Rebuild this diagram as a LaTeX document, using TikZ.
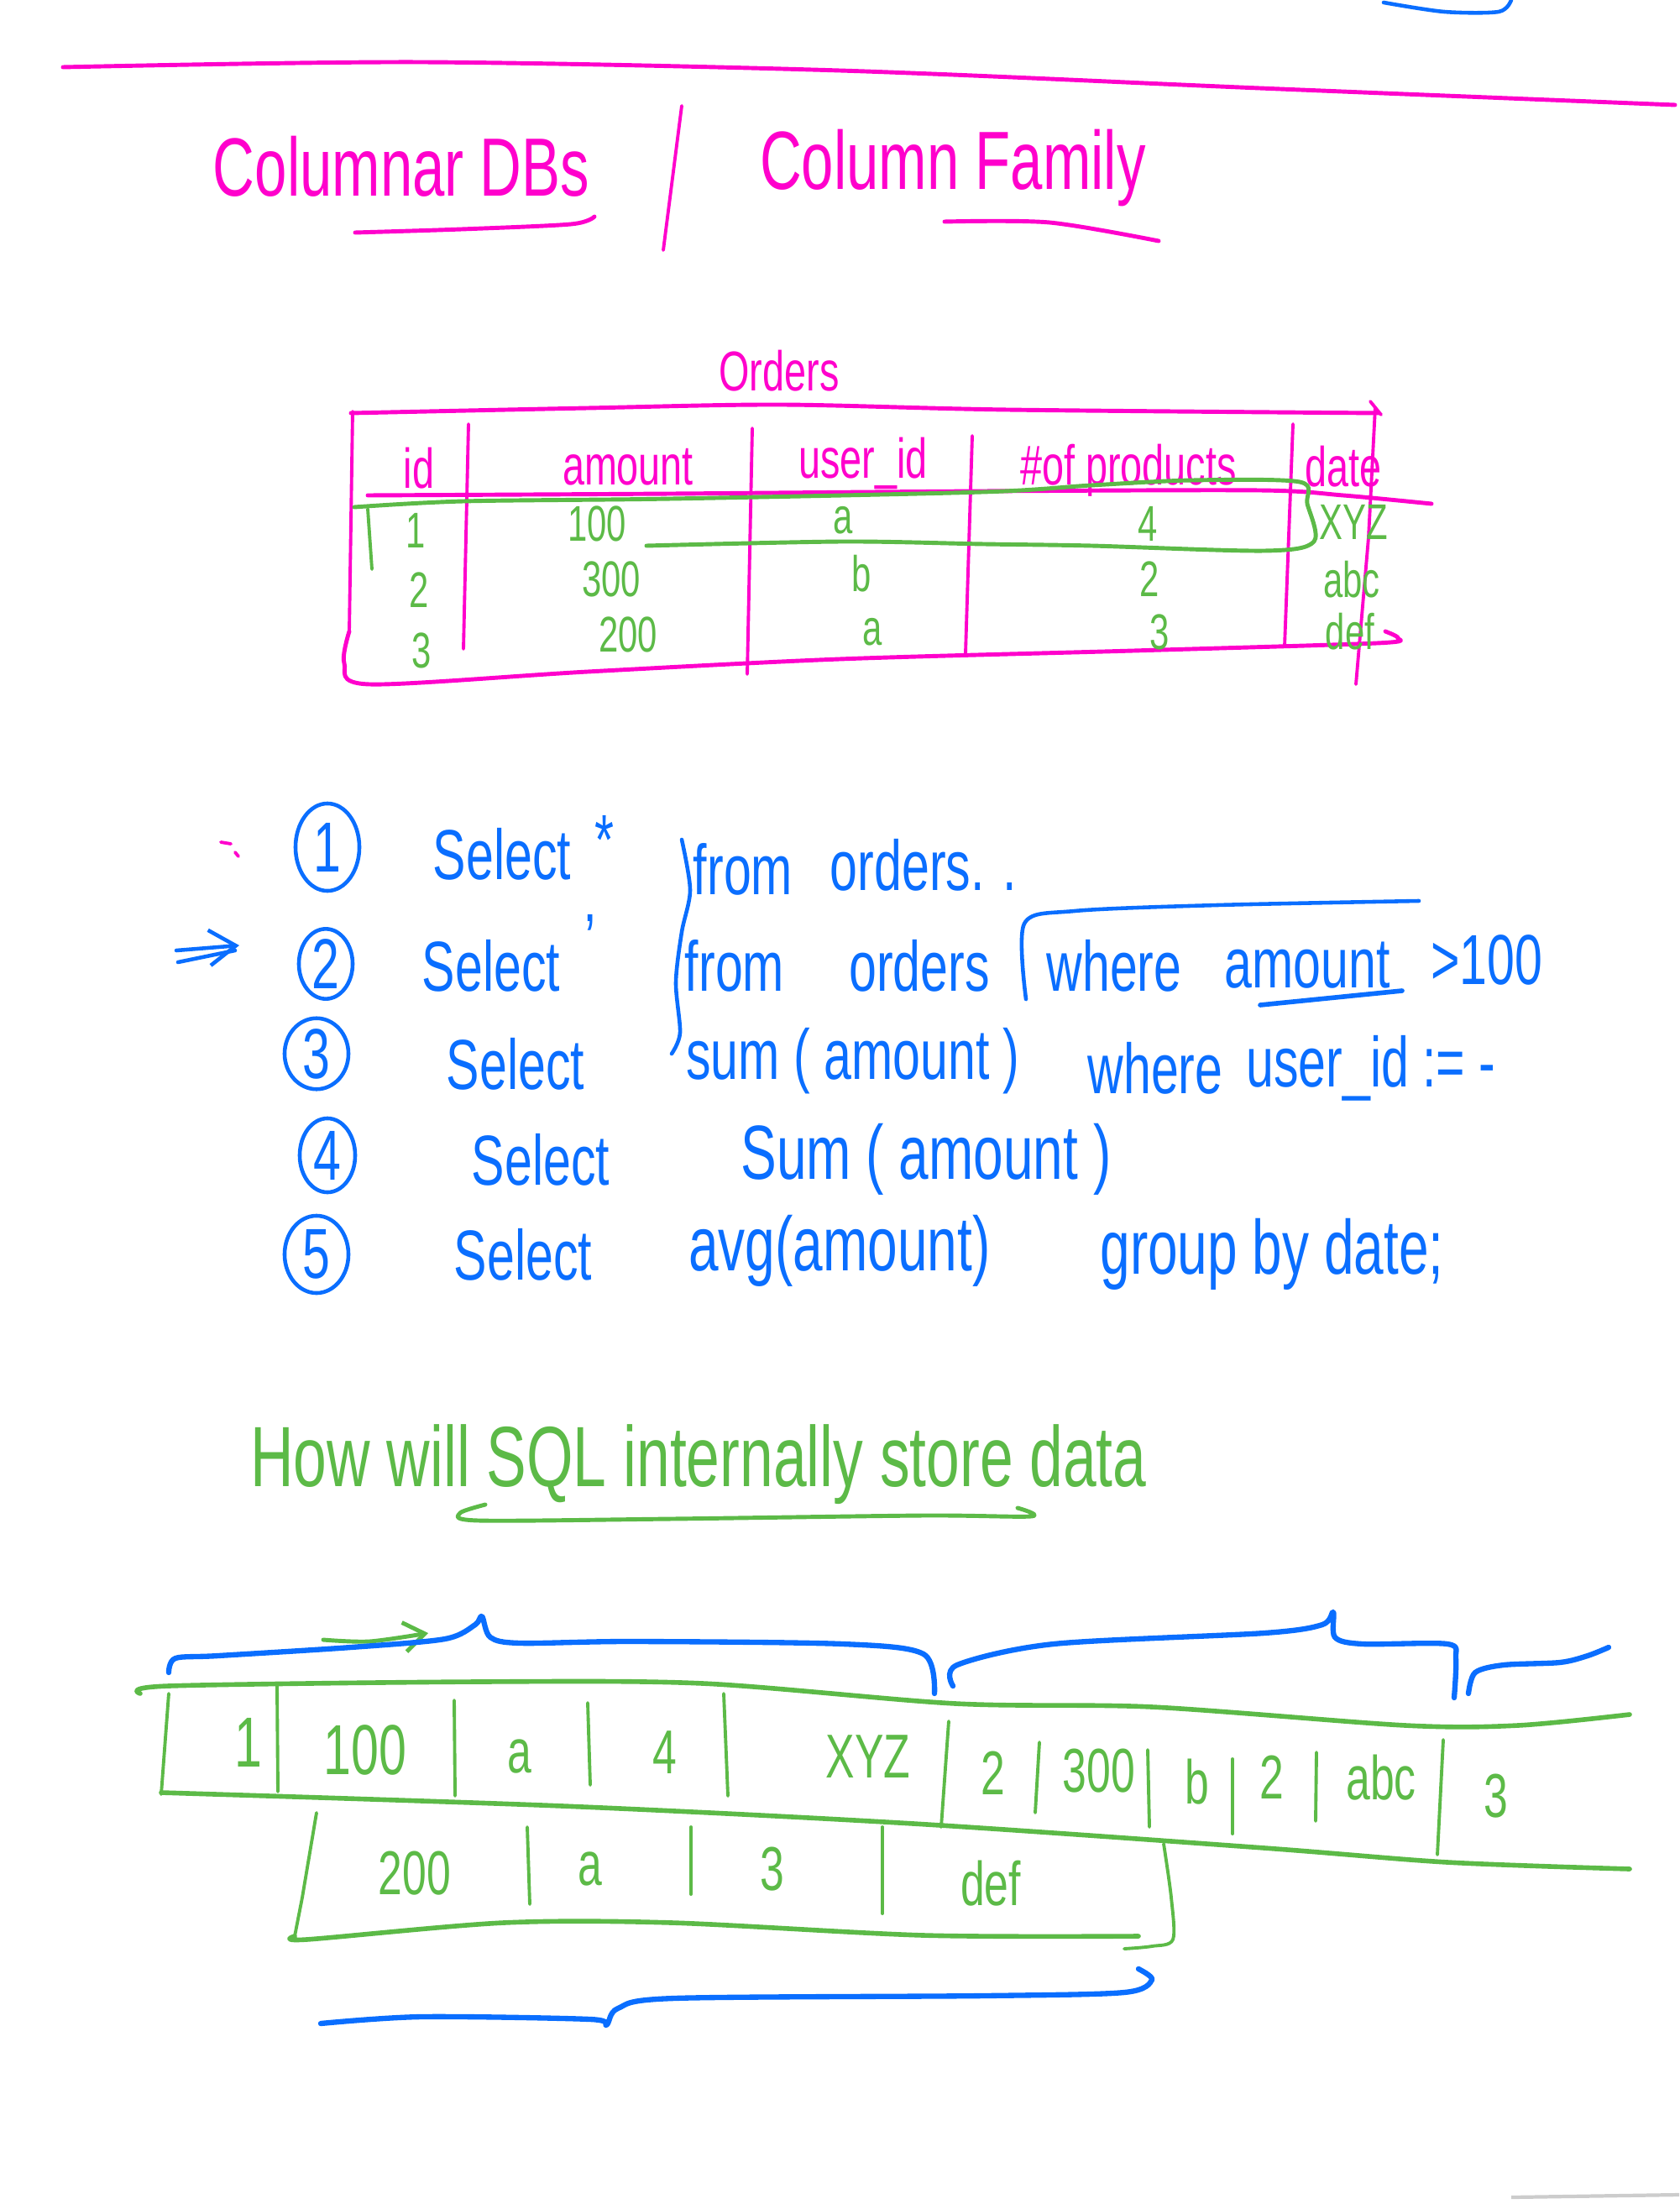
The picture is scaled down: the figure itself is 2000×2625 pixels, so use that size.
\documentclass[tikz,border=0pt]{standalone}
\usepackage{fontspec}
\setmainfont[FakeStretch=0.7]{Liberation Sans}
\usetikzlibrary{positioning,shapes.geometric,arrows.meta}

\definecolor{inkpink}{RGB}{255,0,204}
\definecolor{inkgreen}{RGB}{92,186,71}
\definecolor{inkblue}{RGB}{10,110,255}

\tikzset{
  pinkink/.style={draw=inkpink,line width=1.1pt,line cap=round,line join=round},
  greenink/.style={draw=inkgreen,line width=1.1pt,line cap=round,line join=round},
  blueink/.style={draw=inkblue,line width=1.3pt,line cap=round,line join=round},
  headtext/.style={text=inkpink,inner sep=0pt,font=\fontsize{28}{32}\selectfont},
  pinktext/.style={text=inkpink,inner sep=0pt,font=\fontsize{19}{22}\selectfont},
  celltext/.style={text=inkgreen,inner sep=0pt,font=\fontsize{17}{20}\selectfont},
  greentext/.style={text=inkgreen,inner sep=0pt,font=\fontsize{21}{25}\selectfont},
  bluetext/.style={text=inkblue,inner sep=0pt,font=\fontsize{24}{28}\selectfont},
  circnum/.style={ellipse,draw=inkblue,line width=1.3pt,text=inkblue,inner sep=0pt,
    font=\fontsize{24}{28}\selectfont},
}

\begin{document}
\begin{tikzpicture}[x=0.01cm,y=-0.01cm]
  \useasboundingbox (0,0) rectangle (2000,2625);
  % page rule and top corner
  \draw[pinkink,line width=1.4pt] plot[smooth] coordinates {(75,80) (500,74) (1000,84) (1500,105) (1995,125)};
  \draw[blueink] plot[smooth] coordinates {(1648,3) (1720,14) (1785,14) (1800,0)};

  % heading
  \node[headtext] (columnar) at (478,198) {Columnar DBs};
  \node[headtext] (family) at (1135,200) {Column Family};
  \draw[pinkink,line width=1.4pt] plot[smooth] coordinates {(423,277) (550,273) (680,267) (708,258)};
  \draw[pinkink] (812,126) -- (790,298);
  \draw[pinkink,line width=1.4pt] plot[smooth] coordinates {(1125,264) (1250,265) (1380,287)};

  % orders table
  \node[pinktext] (orders) at (928,442) {Orders};
  \draw[pinkink,line width=1.4pt] plot[smooth] coordinates {(418,492) (700,486) (930,482) (1200,488) (1642,492)};
  \draw[pinkink] (1632,478) -- (1645,494);
  \draw[pinkink] (1638,485) -- (1630,640) -- (1615,815);
  \draw[pinkink] (420,490) -- (416,752);
  \draw[pinkink,line width=1.4pt] plot[smooth] coordinates {(416,752) (410,790) (440,815) (700,800) (1000,785) (1350,775) (1640,766) (1665,760) (1650,752)};
  \draw[pinkink] (558,505) -- (552,773);
  \draw[pinkink] (896,510) -- (890,803);
  \draw[pinkink] (1158,519) -- (1150,778);
  \draw[pinkink] (1540,505) -- (1530,770);
  \draw[pinkink,line width=1.4pt] plot[smooth] coordinates {(438,590) (800,588) (1170,585) (1500,584) (1600,590) (1705,600)};

  \node[pinktext] (hid) at (499,558) {id};
  \node[pinktext] (hamount) at (748,556) {amount};
  \node[pinktext] (huser) at (1028,552) {user\_id};
  \node[pinktext] (hprod) at (1344,560) {\#of products};
  \node[pinktext] (hdate) at (1600,556) {date};

  \node[celltext] (r1id) at (495,632) {1};
  \node[celltext] (r1amt) at (711,624) {100};
  \node[celltext] (r1usr) at (1004,620) {a};
  \node[celltext] (r1prod) at (1367,624) {4};
  \node[celltext] (r1date) at (1612,622) {XYZ};
  \node[celltext] (r2id) at (499,703) {2};
  \node[celltext] (r2amt) at (728,690) {300};
  \node[celltext] (r2usr) at (1026,683) {b};
  \node[celltext] (r2prod) at (1369,690) {2};
  \node[celltext] (r2date) at (1610,690) {abc};
  \node[celltext] (r3id) at (502,775) {3};
  \node[celltext] (r3amt) at (748,756) {200};
  \node[celltext] (r3usr) at (1039,753) {a};
  \node[celltext] (r3prod) at (1381,753) {3};
  \node[celltext] (r3date) at (1608,752) {def};

  % row one ringed
  \draw[greenink,line width=1.4pt] plot[smooth,tension=0.5] coordinates {(422,604) (552,597) (800,594) (1170,586) (1300,578) (1420,572) (1548,574) (1557,600) (1565,645) (1506,656) (1300,650) (1172,648) (1004,645) (770,650)};
  \draw[greenink] (438,606) -- (443,678);

  % queries
  \draw[pinkink] (263,1003) -- (275,1005);
  \draw[pinkink] (280,1015) -- (284,1020);
  \draw[blueink,-{Straight Barb[length=9pt,width=12pt]}] (210,1132) -- (285,1126);
  \draw[blueink] (212,1146) -- (280,1132);

  \node[circnum,minimum width=0.76cm,minimum height=1.04cm] (q1) at (390,1009) {1};
  \node[circnum,minimum width=0.64cm,minimum height=0.8cm] (q2) at (388,1148) {2};
  \node[circnum,minimum width=0.76cm,minimum height=0.84cm] (q3) at (377,1255) {3};
  \node[circnum,minimum width=0.66cm,minimum height=0.88cm] (q4) at (390,1376) {4};
  \node[circnum,minimum width=0.76cm,minimum height=0.92cm] (q5) at (377,1494) {5};

  \node[bluetext] (q1sel) at (598,1017) {Select};
  \node[bluetext] (q1star) at (720,1000) {*};
  \node[bluetext] (q1from) at (885,1035) {from};
  \node[bluetext] (q1tbl) at (1100,1030) {orders. .};

  \node[bluetext] (q2sel) at (585,1150) {Select};
  \node[bluetext] (q2star) at (703,1118) {'};
  \node[bluetext] (q2from) at (875,1150) {from};
  \node[bluetext] (q2tbl) at (1095,1150) {orders};
  \node[bluetext] (q2where) at (1327,1150) {where};
  \node[bluetext] (q2col) at (1557,1150) {amount};
  \node[bluetext] (q2cond) at (1771,1143) {>100};
  \draw[blueink] plot[smooth] coordinates {(1222,1190) (1220,1100) (1280,1085) (1450,1078) (1690,1073)};
  \draw[blueink,line width=1.6pt] (1501,1197) -- (1670,1180);
  \draw[blueink] plot[smooth] coordinates {(812,1000) (822,1060) (812,1110) (805,1170) (810,1230) (800,1255)};

  \node[bluetext] (q3sel) at (614,1267) {Select};
  \node[bluetext] (q3sum) at (1016,1264) {sum ( amount )};
  \node[bluetext] (q3where) at (1376,1272) {where};
  \node[bluetext] (q3cond) at (1633,1272) {user\_id := -};

  \node[bluetext] (q4sel) at (644,1381) {Select};
  \node[bluetext,font=\fontsize{26}{30}\selectfont] (q4sum) at (1103,1381) {Sum ( amount )};

  \node[bluetext] (q5sel) at (623,1494) {Select};
  \node[bluetext,font=\fontsize{26}{30}\selectfont] (q5avg) at (1000,1490) {avg(amount)};
  \node[bluetext,font=\fontsize{26}{30}\selectfont] (q5grp) at (1515,1494) {group by date;};

  % how is it stored
  \node[greentext,font=\fontsize{29}{33}\selectfont] (howq) at (832,1744) {How will SQL internally store data};
  \draw[greenink,line width=1.4pt] plot[smooth] coordinates {(578,1792) (548,1802) (570,1811) (800,1809) (1100,1805) (1228,1806) (1212,1796)};

  \draw[greenink,line width=1.6pt] plot[smooth] coordinates {(167,2017) (201,2008) (569,2003) (837,2005) (1138,2029) (1372,2033) (1674,2055) (1808,2055) (1941,2042)};
  \draw[greenink,line width=1.6pt] plot[smooth] coordinates {(192,2135) (670,2151) (1088,2172) (1506,2201) (1724,2218) (1941,2226)};
  \draw[greenink] (201,2017) -- (192,2137);
  \draw[greenink] (330,2008) -- (331,2134);
  \draw[greenink] (541,2025) -- (542,2139);
  \draw[greenink] (700,2028) -- (703,2126);
  \draw[greenink] (862,2017) -- (867,2139);
  \draw[greenink] (1130,2050) -- (1121,2176);
  \draw[greenink] (1238,2075) -- (1233,2159);
  \draw[greenink] (1367,2084) -- (1369,2176);
  \draw[greenink] (1468,2095) -- (1468,2184);
  \draw[greenink] (1568,2087) -- (1567,2169);
  \draw[greenink] (1719,2072) -- (1712,2209);

  \node[greentext,font=\fontsize{24}{28}\selectfont] (s1) at (296,2075) {1};
  \node[greentext,font=\fontsize{24}{28}\selectfont] (s100) at (435,2084) {100};
  \node[greentext] (sa1) at (619,2092) {a};
  \node[greentext] (s4) at (792,2087) {4};
  \node[greentext] (sxyz) at (1034,2092) {XYZ};
  \node[greentext] (s2) at (1183,2112) {2};
  \node[greentext] (s300) at (1309,2109) {300};
  \node[greentext] (sb) at (1426,2122) {b};
  \node[greentext] (s2b) at (1515,2117) {2};
  \node[greentext] (sabc) at (1645,2117) {abc};
  \node[greentext] (s3) at (1782,2139) {3};

  \draw[greenink] (377,2159) -- (360,2260) -- (351,2306);
  \draw[greenink,line width=1.6pt] plot[smooth] coordinates {(351,2306) (365,2310) (600,2290) (800,2290) (1100,2305) (1356,2306)};
  \draw[greenink] (628,2176) -- (631,2268);
  \draw[greenink] (823,2176) -- (823,2256);
  \draw[greenink] (1051,2176) -- (1051,2279);
  \draw[greenink] plot[smooth] coordinates {(1386,2196) (1395,2260) (1397,2310) (1372,2318) (1339,2321)};

  \node[greentext] (s200) at (494,2231) {200};
  \node[greentext] (sa2) at (703,2226) {a};
  \node[greentext] (s3b) at (920,2226) {3};
  \node[greentext] (sdef) at (1180,2243) {def};

  % grouping braces
  \draw[greenink,line width=1.4pt,-{Straight Barb[length=7pt,width=10pt]}] plot[smooth] coordinates {(385,1953) (440,1955) (510,1945)};
  \draw[blueink,line width=1.8pt] plot[smooth] coordinates {(201,1992) (209,1975) (260,1972) (418,1962) (530,1952) (566,1935) (574,1925) (584,1950) (620,1957) (753,1955) (1004,1958) (1100,1970) (1113,2017)};
  \draw[blueink,line width=1.8pt] plot[smooth] coordinates {(1135,2008) (1140,1983) (1255,1958) (1506,1945) (1575,1935) (1588,1920) (1590,1950) (1623,1958) (1724,1958) (1734,1975) (1732,2022)};
  \draw[blueink,line width=1.8pt] plot[smooth] coordinates {(1749,2017) (1757,1992) (1791,1983) (1858,1980) (1891,1972) (1916,1962)};
  \draw[blueink,line width=1.8pt] plot[smooth] coordinates {(382,2410) (502,2402) (703,2405) (722,2412) (736,2392) (803,2380) (1172,2377) (1339,2373) (1372,2358) (1356,2345)};

  \draw[gray!40,line width=1.2pt] (1800,2617) -- (2000,2614);
\end{tikzpicture}
\end{document}
